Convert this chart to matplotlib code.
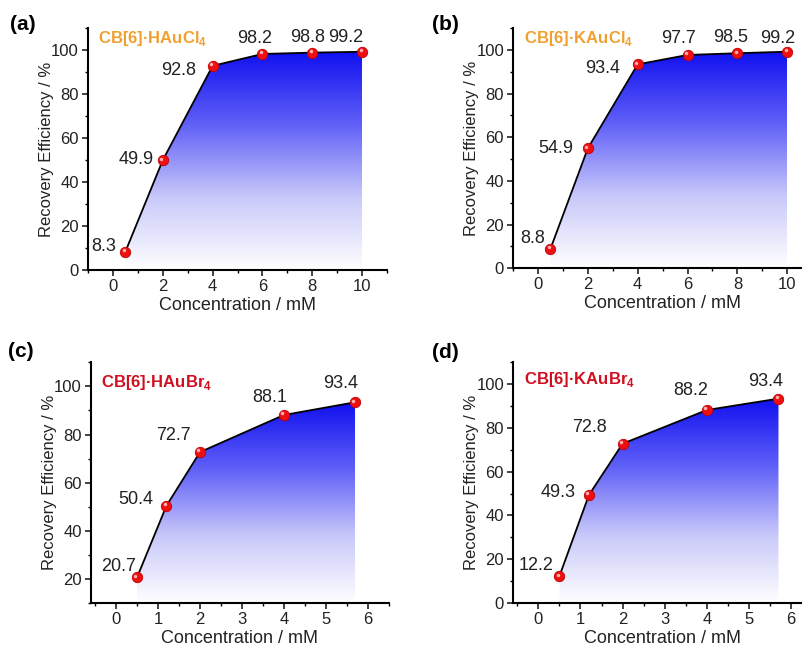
import numpy as np
import matplotlib.pyplot as plt
from matplotlib.colors import LinearSegmentedColormap
from matplotlib.patches import Polygon
from matplotlib.ticker import MultipleLocator
from matplotlib import transforms

plt.rcParams["font.family"] = ["Liberation Sans", "DejaVu Sans"]
plt.rcParams["mathtext.fontset"] = "custom"
plt.rcParams["mathtext.bf"] = "Liberation Sans:bold"

# data
conc_cl = [0.5, 2, 4, 6, 8, 10]
conc_br = [0.5, 1.2, 2, 4, 5.7]
eff_hcl = [8.3, 49.9, 92.8, 98.2, 98.8, 99.2]
eff_kcl = [8.8, 54.9, 93.4, 97.7, 98.5, 99.2]
eff_hbr = [20.7, 50.4, 72.7, 88.1, 93.4]
eff_kbr = [12.2, 49.3, 72.8, 88.2, 93.4]
titles = [r"CB[6]·HAuCl$_\mathbf{4}$", r"CB[6]·KAuCl$_\mathbf{4}$",
          r"CB[6]·HAuBr$_\mathbf{4}$", r"CB[6]·KAuBr$_\mathbf{4}$"]
panel_tags = ["(a)", "(b)", "(c)", "(d)"]

# value label offsets, pixels from the point
offs_a = [(-22, 5), (-27, 1), (-34, -5), (-8, 15), (-5, 15), (-17, 14)]
offs_b = [(-18, 10), (-32, 0), (-35, -4), (-9, 16), (-7, 16), (-10, 13)]
offs_c = [(-19, 11), (-31, 6), (-27, 17), (-14, 18), (-14, 19)]
offs_d = [(-23, 11), (-31, 3), (-33, 16), (-16, 20), (-13, 17)]

GRAD = LinearSegmentedColormap.from_list("wb", ["#ffffff", "#c8c8fa", "#6060f8", "#1010f0"])

panels = [
    dict(x=conc_cl, y=eff_hcl, tcol="#f0a030", xlim=(-1, 11), ylim=(0, 110), xmaj=2, yt0=0,
         pos=[0.1097, 0.5872, 0.373, 0.370], offs=offs_a, ty=0.995, tag=(10, 24)),
    dict(x=conc_cl, y=eff_kcl, tcol="#f0a030", xlim=(-1, 11), ylim=(0, 110), xmaj=2, yt0=0,
         pos=[0.6397, 0.5900, 0.373, 0.367], offs=offs_b, ty=0.995, tag=(432, 24)),
    dict(x=conc_br, y=eff_hbr, tcol="#d01020", xlim=(-0.6, 6.5), ylim=(10, 110), xmaj=1, yt0=20,
         pos=[0.1135, 0.078, 0.371, 0.368], offs=offs_c, ty=0.955, tag=(8, 352)),
    dict(x=conc_br, y=eff_kbr, tcol="#d01020", xlim=(-0.6, 6.5), ylim=(0, 110), xmaj=1, yt0=0,
         pos=[0.6397, 0.078, 0.373, 0.368], offs=offs_d, ty=0.97, tag=(432, 353)),
]

fig = plt.figure(figsize=(8.02, 6.54), dpi=100)

for i, p in enumerate(panels):
    ax = fig.add_axes(p["pos"])
    x = np.asarray(p["x"])
    y = np.asarray(p["y"])
    ybot = p["ylim"][0]

    # gradient fill under the curve
    grad = np.linspace(0, 1, 256).reshape(-1, 1)
    im = ax.imshow(grad, cmap=GRAD, origin="lower", aspect="auto",
                   extent=[x[0], x[-1], ybot, y.max()], zorder=1)
    verts = np.vstack([np.column_stack([x, y]), [[x[-1], ybot], [x[0], ybot]]])
    clip = Polygon(verts, closed=True, transform=ax.transData, facecolor="none", edgecolor="none")
    ax.add_patch(clip)
    im.set_clip_path(clip)

    ax.plot(x, y, color="black", lw=1.3, zorder=3)
    ax.plot(x, y, "o", ms=7.5, mfc="#ee1010", mec="#c00000", mew=0.6, zorder=4)
    hl = transforms.offset_copy(ax.transData, fig=fig, x=-1.2, y=1.2, units="points")
    ax.plot(x, y, "o", ms=2.5, mfc="#ffb0b0", mec="none", transform=hl, zorder=5)

    for xi, yi, (dx, dy) in zip(x, y, p["offs"]):
        ax.annotate(f"{yi:.1f}", (xi, yi), xytext=(dx, dy), textcoords="offset pixels",
                    ha="center", va="center", fontsize=13, color="#222222", zorder=6)

    ax.set_xlim(*p["xlim"])
    ax.set_ylim(*p["ylim"])
    ax.set_xticks(np.arange(0, p["xlim"][1], p["xmaj"]))
    ax.set_yticks(np.arange(p["yt0"], 101, 20))
    ax.xaxis.set_minor_locator(MultipleLocator(p["xmaj"] / 2))
    ax.yaxis.set_minor_locator(MultipleLocator(10))
    for s in ["top", "right"]:
        ax.spines[s].set_visible(False)
    for s in ["left", "bottom"]:
        ax.spines[s].set_linewidth(1.5)
    ax.tick_params(which="major", direction="out", length=4, width=1.2, labelsize=12,
                   colors="#222222", pad=2.5)
    ax.tick_params(which="minor", direction="out", length=2.5, width=1)
    ax.set_xlabel("Concentration / mM", fontsize=13, color="#222222", labelpad=2)
    ax.set_ylabel("Recovery Efficiency / %", fontsize=12, color="#222222", labelpad=-2)

    ax.text(0.035, p["ty"], titles[i], transform=ax.transAxes, ha="left", va="top",
            fontsize=12, fontweight="bold", color=p["tcol"])
    fig.text(p["tag"][0] / 802, 1 - p["tag"][1] / 654, panel_tags[i], ha="left", va="center",
             fontsize=15, fontweight="bold")

fig.savefig("out.png", dpi=100)
